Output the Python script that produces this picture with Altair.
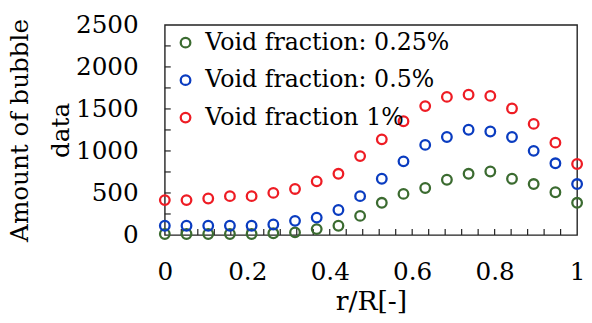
import altair as alt
import pandas as pd

r_over_R = [round(i / 19, 4) for i in range(20)]
series_names = ["Void fraction: 0.25%", "Void fraction: 0.5%", "Void fraction 1%"]
vf_025 = [12, 12, 12, 12, 12, 20, 31, 70, 110, 227, 383, 489, 559, 657, 728, 755, 669, 606, 509, 383]
vf_05 = [110, 110, 110, 110, 110, 125, 168, 207, 297, 462, 669, 876, 1072, 1166, 1252, 1232, 1166, 1001, 853, 606]
vf_1 = [415, 415, 434, 462, 462, 501, 548, 638, 728, 939, 1138, 1354, 1534, 1643, 1670, 1655, 1506, 1322, 1099, 845]
colors = ["#3b6b30", "#0a3cc0", "#ee1c24"]
x_ticks = [0, 0.2, 0.4, 0.6, 0.8, 1]
y_ticks = [0, 500, 1000, 1500, 2000, 2500]
x_minor = [round(i * 0.04, 2) for i in range(1, 25)]
y_minor = [i * 250 for i in range(1, 10)]

rows = []
for name, vals in zip(series_names, [vf_025, vf_05, vf_1]):
    for x, v in zip(r_over_R, vals):
        rows.append({"x": x, "y": v, "series": name})
df = pd.DataFrame(rows)

FONT = "DejaVu Serif"
LINE = "#222222"
W, H = 418, 213

xscale = alt.Scale(domain=[0, 1], nice=False)
yscale = alt.Scale(domain=[0, 2500], nice=False)

points = alt.Chart(df).mark_point(filled=False, size=95, strokeWidth=2.3, opacity=1).encode(
    x=alt.X("x:Q", scale=xscale,
            axis=alt.Axis(values=x_ticks, title="r/R[-]", grid=False, ticks=False,
                          labelFont=FONT, labelFontSize=25, labelColor="black", labelPadding=25,
                          titleFont=FONT, titleFontSize=27, titleFontWeight="normal", titleColor="black",
                          titlePadding=5, domain=False, labelFlush=False,
                          labelExpr="datum.value == 0 ? '0' : datum.value == 1 ? '1' : format(datum.value, '.1f')")),
    y=alt.Y("y:Q", scale=yscale,
            axis=alt.Axis(values=y_ticks, title=["Amount of bubble", "data"], grid=False, ticks=False,
                          labelFont=FONT, labelFontSize=25, labelColor="black", labelPadding=27,
                          titleFont=FONT, titleFontSize=25, titleFontWeight="normal", titleColor="black",
                          titlePadding=2, domain=False, titleLineHeight=42, labelFlush=False,
                          format="d")),
    color=alt.Color("series:N", scale=alt.Scale(domain=series_names, range=colors),
                    legend=alt.Legend(title=None, orient="none", legendX=9, legendY=6,
                                      labelFont=FONT, labelFontSize=24, labelColor="black",
                                      labelLimit=0,
                                      symbolType="circle", symbolSize=95, symbolStrokeWidth=2.3,
                                      symbolFillColor="transparent",
                                      labelOffset=8, rowPadding=14, padding=0)),
)

xt = alt.Chart(pd.DataFrame({"t": x_minor})).mark_rule(color=LINE, strokeWidth=1.2).encode(
    x=alt.X("t:Q", scale=xscale), y=alt.value(H), y2=alt.value(H - 6))
yt = alt.Chart(pd.DataFrame({"t": y_minor})).mark_rule(color=LINE, strokeWidth=1.2).encode(
    y=alt.Y("t:Q", scale=yscale), x=alt.value(0), x2=alt.value(6))

chart = alt.layer(xt, yt, points).properties(
    width=W, height=H,
    background="white",
    autosize=alt.AutoSizeParams(type="none"),
    padding={"left": 159, "top": 15, "right": 7, "bottom": 80},
).configure_view(stroke=LINE, strokeWidth=1.4)

chart.save("out.html", embed_options={"renderer": "svg", "actions": False})
